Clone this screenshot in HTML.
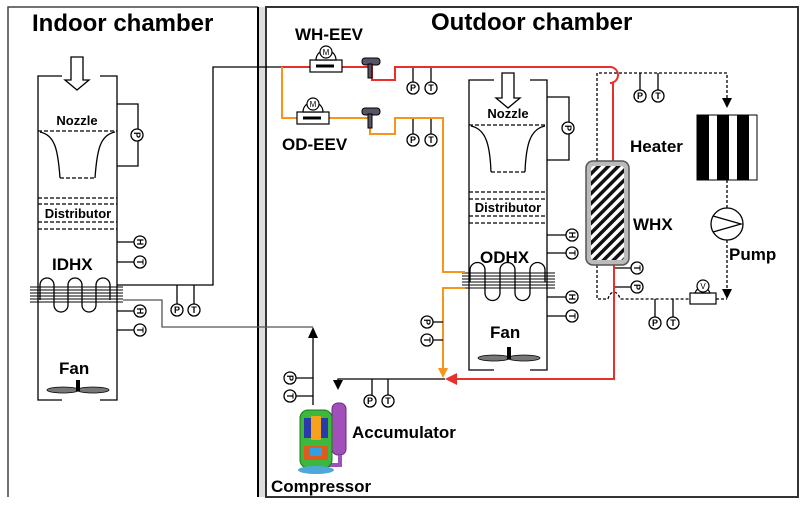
<!DOCTYPE html>
<html><head><meta charset="utf-8"><style>
html,body{margin:0;padding:0;background:#fff;}
svg{display:block;font-family:"Liberation Sans",sans-serif;font-weight:bold;}
</style></head><body>
<svg width="806" height="505" viewBox="0 0 806 505" xmlns="http://www.w3.org/2000/svg">
<defs>
<pattern id="diag" width="7" height="7" patternUnits="userSpaceOnUse" patternTransform="rotate(-45)">
<rect width="7" height="7" fill="#fff"/><rect width="7" height="3.5" fill="#111"/>
</pattern>
</defs>
<!-- chambers -->
<path d="M8,497 V7 H258" fill="none" stroke="#444" stroke-width="1.5"/>
<rect x="258" y="7" width="8" height="490" fill="#ddd"/>
<line x1="258" y1="7" x2="258" y2="497" stroke="#000" stroke-width="2"/>
<rect x="266" y="7" width="532" height="490" fill="none" stroke="#333" stroke-width="2"/>
<text x="32" y="31" font-size="24">Indoor chamber</text>
<text x="431" y="30" font-size="24">Outdoor chamber</text>

<g fill="none" stroke="#000" stroke-width="1.3">
<!-- indoor unit -->
<path d="M62,76 H38 V400 H62 M100,400 H117 V76 H100"/>
<path d="M71,57 H83 V80 H89 L77,90 L65,80 H71Z" fill="#fff"/>
<path d="M117,104 H138 V166 H117"/>
<path d="M38,131 H117" stroke-dasharray="4,2"/>
<path d="M40,132 C55,135 58,150 60,178 M95,178 C97,150 100,135 115,132"/>
<path d="M60,178 H95" stroke-dasharray="4,2"/>
<path d="M38,198 H117 M38,204 H117 M38,222 H117 M38,229 H117" stroke-dasharray="4,2"/>
<path d="M117,242 H134 M117,262 H134 M117,311 H134 M117,330 H134"/>
<path d="M40,300 V285 a7,7 0 0 1 14,0 V305 a7,7 0 0 0 14,0 V285 a7,7 0 0 1 14,0 V305 a7,7 0 0 0 14,0 V285 a7,7 0 0 1 14,0 V300"/>
<path d="M30,287 H123 M30,290 H123 M30,293 H123 M30,296 H123 M30,299 H123 M30,302 H123" stroke-width="1"/>
<!-- outdoor unit -->
<path d="M494,80 H469 V370 H494 M530,370 H547 V80 H530"/>
<path d="M502,73 H514 V98 H520 L508,108 L496,98 H502Z" fill="#fff"/>
<path d="M547,97 H569 V160 H547"/>
<path d="M469,125 H547" stroke-dasharray="4,2"/>
<path d="M471,126 C486,129 490,145 491,172 M525,172 C526,145 530,129 545,126"/>
<path d="M491,172 H525" stroke-dasharray="4,2"/>
<path d="M469,192 H547 M469,199 H547 M469,216 H547 M469,223 H547" stroke-dasharray="4,2"/>
<path d="M547,235 H566 M547,253 H566 M547,297 H566 M547,316 H566"/>
<path d="M470,282 V270 a7,7 0 0 1 15,0 V293 a7,7 0 0 0 15,0 V270 a7,7 0 0 1 15,0 V293 a7,7 0 0 0 15,0 V270 a7,7 0 0 1 15,0 V282"/>
<path d="M462,273 H555 M462,276 H555 M462,279 H555 M462,282 H555 M462,285 H555 M462,288 H555" stroke-width="1"/>
<!-- black pipes -->
<path d="M117,285 H213 V67 H282"/>
<path d="M123,300 H162 V327 H313" stroke="#555"/>
<path d="M313,405 V336"/>
<path d="M445,379 H338 V381"/>
<path d="M177,285 V304 M194,285 V304 M372,379 V395 M388,379 V395"/>
<path d="M313,378 H296 M313,396 H296"/>
<path d="M413,67 V82 M431,67 V82 M413,118 V134 M431,118 V134 M640,73 V90 M658,73 V90"/>
<path d="M614,268 H631 M614,287 H631 M655,299 V317 M673,299 V317"/>
<!-- dashed water loop -->
<path d="M597,161 V73 H727 V99" stroke-dasharray="3,2"/>
<path d="M727,180 V208" stroke-dasharray="3,2"/>
<path d="M727,240 V290" stroke-dasharray="3,2"/>
<path d="M597,265 V299 H608 C610,290 618,290 620,299 H690 M716,299 H727" stroke-dasharray="3,2"/>
</g>
<!-- arrowheads -->
<g fill="#000">
<polygon points="313,327 308,338 318,338"/>
<polygon points="338,390 333,380 343,380"/>
<polygon points="727,108 722,98 732,98"/>
<polygon points="727,299 722,289 732,289"/>
</g>
<!-- colored pipes -->
<g fill="none" stroke-width="2">
<path d="M282,67 H372 V80 H395 V67 H610 a8,8 0 0 1 0,16 H613 V161" stroke="#e8302a"/>
<path d="M614,265 V379 H455" stroke="#e8302a"/>
<path d="M445,379 l12,-6 v12z" fill="#e8302a" stroke="none"/>
<path d="M282,67 V118 H370 V134 H395 V118 H443 V272 H465" stroke="#f7941d"/>
<path d="M465,288 H443 V370" stroke="#f7941d"/>
<path d="M443,378 l-5,-10 h10z" fill="#f7941d" stroke="none"/>
<path d="M443,322 H433 M443,340 H433" stroke="#000" stroke-width="1.3"/>
</g>
<!-- valves -->
<g stroke="#000" stroke-width="1.2" fill="#fff">
<rect x="310" y="60" width="32" height="12"/><path d="M316,60 a10,10 0 0 1 20,0z"/>
<circle cx="326" cy="52" r="6"/>
<rect x="297" y="112" width="32" height="12"/><path d="M303,112 a10,10 0 0 1 20,0z"/>
<circle cx="313" cy="104" r="6"/>
<rect x="690" y="293" width="26" height="11"/><path d="M695,293 a8,9 0 0 1 15,0z"/>
<circle cx="703" cy="286" r="6"/>
</g>
<g font-size="8" font-weight="normal" text-anchor="middle"><text x="326" y="55">M</text><text x="313" y="107">M</text><text x="703" y="289">V</text></g>
<path d="M316,66 H334 M303,118 H321" stroke="#000" stroke-width="3"/>
<!-- flow sensors -->
<g fill="#556" stroke="#000" stroke-width="1"><rect x="362" y="58" width="18" height="7" rx="3"/><rect x="368" y="64" width="4" height="14"/><rect x="362" y="108" width="18" height="7" rx="3"/><rect x="368" y="114" width="4" height="14"/></g>
<!-- sensor circles -->
<g fill="#fff" stroke="#000" stroke-width="1.3">
<circle cx="137" cy="135" r="6"/><circle cx="140" cy="242" r="6"/><circle cx="140" cy="262" r="6"/><circle cx="140" cy="311" r="6"/><circle cx="140" cy="330" r="6"/>
<circle cx="177" cy="310" r="6"/><circle cx="194" cy="310" r="6"/>
<circle cx="413" cy="88" r="6"/><circle cx="431" cy="88" r="6"/><circle cx="413" cy="140" r="6"/><circle cx="431" cy="140" r="6"/>
<circle cx="568" cy="128" r="6"/><circle cx="572" cy="235" r="6"/><circle cx="572" cy="253" r="6"/><circle cx="572" cy="297" r="6"/><circle cx="572" cy="316" r="6"/>
<circle cx="640" cy="96" r="6"/><circle cx="658" cy="96" r="6"/>
<circle cx="637" cy="268" r="6"/><circle cx="637" cy="287" r="6"/><circle cx="655" cy="323" r="6"/><circle cx="673" cy="323" r="6"/>
<circle cx="427" cy="322" r="6"/><circle cx="427" cy="340" r="6"/>
<circle cx="290" cy="378" r="6"/><circle cx="290" cy="396" r="6"/>
<circle cx="370" cy="401" r="6"/><circle cx="388" cy="401" r="6"/>
</g>
<g font-size="9" text-anchor="middle">
<text x="177" y="313">P</text><text x="194" y="313">T</text>
<text x="413" y="91">P</text><text x="431" y="91">T</text><text x="413" y="143">P</text><text x="431" y="143">T</text>
<text x="640" y="99">P</text><text x="658" y="99">T</text><text x="655" y="326">P</text><text x="673" y="326">T</text>
<text x="370" y="404">P</text><text x="388" y="404">T</text>
<g transform="rotate(90)">
<text x="135" y="-134">P</text><text x="242" y="-137">H</text><text x="262" y="-137">T</text><text x="311" y="-137">H</text><text x="330" y="-137">T</text>
<text x="128" y="-565">P</text><text x="235" y="-569">H</text><text x="253" y="-569">T</text><text x="297" y="-569">H</text><text x="316" y="-569">T</text>
<text x="268" y="-634">T</text><text x="287" y="-634">P</text>
<text x="322" y="-424">P</text><text x="340" y="-424">T</text><text x="378" y="-287">P</text><text x="396" y="-287">T</text>
</g></g>
<!-- WHX -->
<rect x="586" y="161" width="43" height="104" rx="7" fill="#bbb" stroke="#555" stroke-width="1.5"/>
<rect x="591" y="166" width="33" height="94" rx="3" fill="url(#diag)"/>
<!-- heater -->
<rect x="697" y="115" width="60" height="65" fill="#fff" stroke="#000"/>
<g fill="#000"><rect x="697" y="115" width="12" height="65"/><rect x="717" y="115" width="12" height="65"/><rect x="737" y="115" width="12" height="65"/></g>
<!-- pump -->
<circle cx="727" cy="224" r="16" fill="#fff" stroke="#000" stroke-width="1.3"/>
<path d="M713,216 L741,224 L713,232" fill="none" stroke="#000" stroke-width="1.3"/>
<!-- fans -->
<g fill="#777" stroke="#000" stroke-width="0.8">
<ellipse cx="63" cy="390" rx="16" ry="3"/><ellipse cx="93" cy="390" rx="16" ry="3"/>
<ellipse cx="494" cy="358" rx="16" ry="3"/><ellipse cx="524" cy="358" rx="16" ry="3"/>
</g>
<rect x="76" y="380" width="4" height="11" fill="#000"/><rect x="507" y="347" width="4" height="12" fill="#000"/>
<!-- compressor & accumulator -->
<rect x="332" y="403" width="14" height="52" rx="6" fill="#a050b8" stroke="#6a2a80"/>
<path d="M340,455 V465 H325" fill="none" stroke="#a050b8" stroke-width="4"/>
<rect x="300" y="410" width="32" height="58" rx="8" fill="#3cb83c" stroke="#1a7a1a"/>
<rect x="304" y="418" width="7" height="20" fill="#2a3aaa"/><rect x="321" y="418" width="7" height="20" fill="#2a3aaa"/>
<rect x="311" y="416" width="10" height="24" fill="#f7a21d"/>
<rect x="304" y="446" width="24" height="14" fill="#e05a20"/><rect x="310" y="448" width="12" height="8" fill="#30a0e0"/>
<ellipse cx="316" cy="470" rx="18" ry="4" fill="#50a8d8"/>
<!-- labels -->
<g font-size="13" text-anchor="middle">
<text x="77" y="125">Nozzle</text><text x="78" y="218">Distributor</text>
<text x="508" y="118">Nozzle</text><text x="508" y="212">Distributor</text>
</g>
<g font-size="17">
<text x="52" y="270">IDHX</text><text x="480" y="263">ODHX</text>
<text x="59" y="374">Fan</text><text x="490" y="338">Fan</text>
<text x="295" y="40">WH-EEV</text><text x="282" y="150">OD-EEV</text>
<text x="630" y="152">Heater</text><text x="633" y="230">WHX</text><text x="729" y="260">Pump</text>
<text x="352" y="438">Accumulator</text><text x="271" y="492">Compressor</text>
</g>
</svg>
</body></html>
